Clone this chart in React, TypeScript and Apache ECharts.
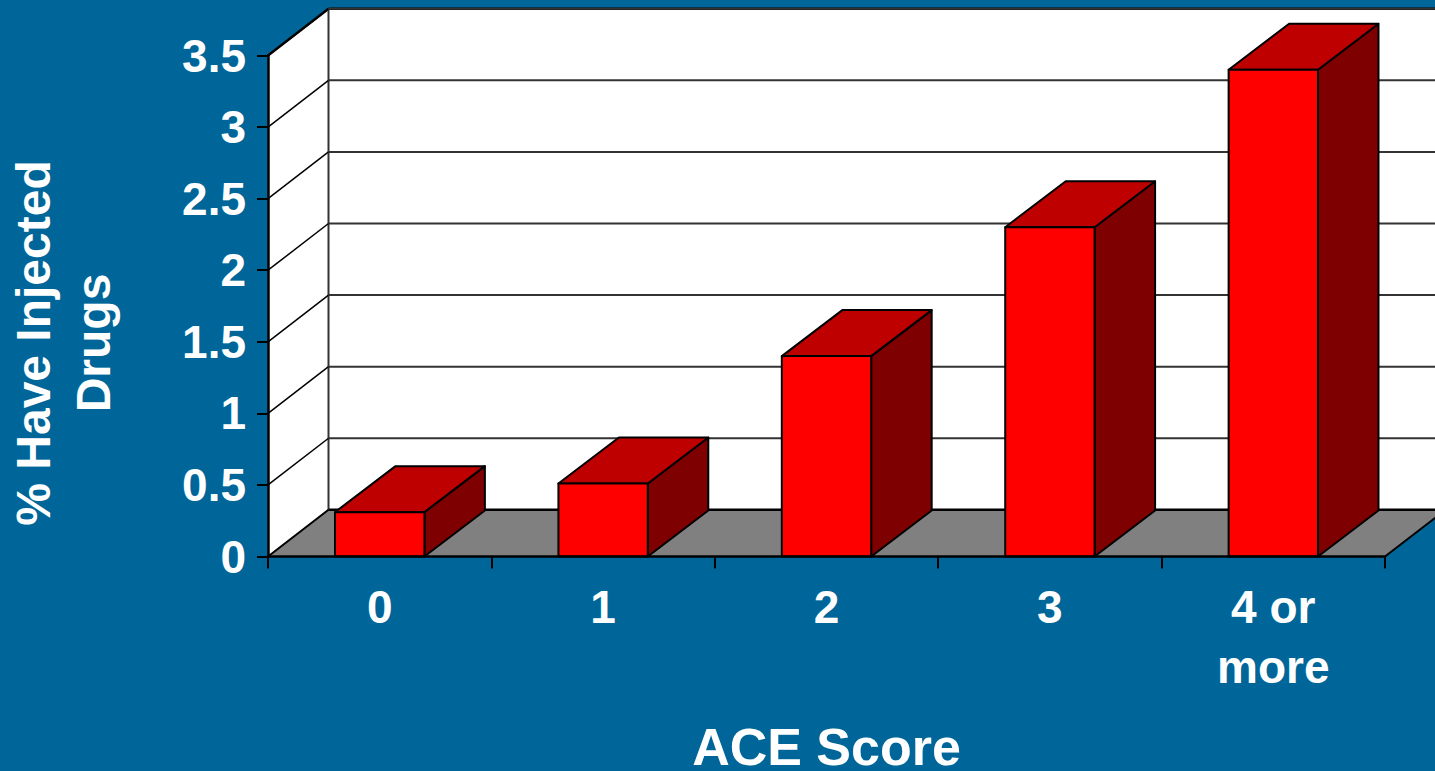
import React, { useEffect, useRef } from "react";
import * as echarts from "echarts";

const categories = ["0", "1", "2", "3", "4 or\nmore"];
const values = [0.31, 0.51, 1.4, 2.3, 3.4];
const yTicks = [0.5, 1, 1.5, 2, 2.5, 3, 3.5];
const yMax = 3.5;
const DX = 60.5;
const DY = -46.7;
const FONT = '"Liberation Sans", Arial, sans-serif';

export default function App() {
  const ref = useRef<HTMLDivElement>(null);
  useEffect(() => {
    const chart = echarts.init(ref.current!, undefined, { renderer: "svg" });
    const lastCat = categories.length - 1;
    const corners = (api: any) => {
      const band = api.size([1, 0])[0];
      const a = api.coord([0, 0]);
      const b = api.coord([0, yMax]);
      const left = a[0] - band / 2;
      const right = api.coord([lastCat, 0])[0] + band / 2;
      return { left, right, bottom: a[1], top: b[1] };
    };
    chart.setOption({
      animation: false,
      backgroundColor: "#006699",
      grid: { left: 268, top: 55.5, width: 1117, height: 501, containLabel: false, outerBoundsMode: "none" },
      xAxis: {
        type: "category",
        data: categories,
        z: 10,
        name: "ACE Score",
        nameLocation: "middle",
        nameGap: 168,
        nameTextStyle: { color: "#fff", fontFamily: FONT, fontWeight: "bold", fontSize: 52, lineHeight: 44, verticalAlign: "top" },
        axisLine: { show: true, lineStyle: { color: "#000", width: 2.5 } },
        axisTick: { show: true, length: 12, lineStyle: { color: "#000", width: 2 } },
        axisLabel: { color: "#fff", fontFamily: FONT, fontWeight: "bold", fontSize: 46, lineHeight: 60, margin: 20 },
      },
      yAxis: {
        type: "value",
        min: 0,
        max: yMax,
        interval: 0.5,
        z: 10,
        name: "% Have Injected\nDrugs",
        nameLocation: "middle",
        nameRotate: 90,
        nameGap: 145,
        nameTextStyle: { color: "#fff", fontFamily: FONT, fontWeight: "bold", fontSize: 48, lineHeight: 60, padding: [0, 74, 0, 0] },
        splitLine: { show: false },
        axisLine: { show: true, lineStyle: { color: "#000", width: 2.5 } },
        axisTick: { show: true, length: 11, lineStyle: { color: "#000", width: 2 } },
        axisLabel: { color: "#fff", fontFamily: FONT, fontWeight: "bold", fontSize: 46, margin: 22 },
      },
      series: [
        {
          type: "custom",
          name: "room",
          silent: true,
          clip: false,
          z: 1,
          data: [[0]],
          renderItem: (_p: any, api: any) => {
            const c = corners(api);
            const bLeft = c.left + DX;
            const bRight = c.right + DX;
            const edge = { stroke: "#000", lineWidth: 2.5 };
            return {
              type: "group",
              children: [
                { type: "polygon", shape: { points: [[c.left, c.top], [bLeft, c.top + DY], [bLeft, c.bottom + DY], [c.left, c.bottom]] }, style: { fill: "#fff" } },
                { type: "polygon", shape: { points: [[bLeft, c.top + DY], [bRight, c.top + DY], [bRight, c.bottom + DY], [bLeft, c.bottom + DY]] }, style: { fill: "#fff" } },
                { type: "polygon", shape: { points: [[c.left, c.bottom], [bLeft, c.bottom + DY], [bRight, c.bottom + DY], [c.right, c.bottom]] }, style: { fill: "#808080" } },
                { type: "line", shape: { x1: c.left, y1: c.top, x2: bLeft, y2: c.top + DY }, style: edge },
                { type: "line", shape: { x1: bLeft, y1: c.top + DY, x2: bRight, y2: c.top + DY }, style: edge },
                { type: "line", shape: { x1: bLeft, y1: c.top + DY, x2: bLeft, y2: c.bottom + DY }, style: { stroke: "#333", lineWidth: 2 } },
                { type: "line", shape: { x1: c.left, y1: c.bottom, x2: bLeft, y2: c.bottom + DY }, style: { stroke: "#000", lineWidth: 2 } },
                { type: "line", shape: { x1: bLeft, y1: c.bottom + DY, x2: bRight, y2: c.bottom + DY }, style: edge },
                { type: "line", shape: { x1: c.right, y1: c.bottom, x2: bRight, y2: c.bottom + DY }, style: { stroke: "#000", lineWidth: 2 } },
              ],
            };
          },
        },
        {
          type: "custom",
          name: "gridlines",
          silent: true,
          clip: false,
          z: 2,
          data: yTicks.map((t) => [0, t]),
          encode: { y: 1 },
          renderItem: (_p: any, api: any) => {
            const c = corners(api);
            const y = api.coord([0, api.value(1)])[1];
            return {
              type: "group",
              children: [
                { type: "line", shape: { x1: c.left, y1: y, x2: c.left + DX, y2: y + DY }, style: { stroke: "#000", lineWidth: 1.5 } },
                { type: "line", shape: { x1: c.left + DX, y1: y + DY, x2: c.right + DX, y2: y + DY }, style: { stroke: "#333", lineWidth: 2 } },
              ],
            };
          },
        },
        {
          type: "custom",
          name: "% Have Injected Drugs",
          silent: true,
          clip: false,
          z: 3,
          data: values.map((v, i) => [i, v]),
          encode: { x: 0, y: 1 },
          renderItem: (_p: any, api: any) => {
            const [cx, top] = api.coord([api.value(0), api.value(1)]);
            const bottom = api.coord([api.value(0), 0])[1];
            const half = api.size([1, 0])[0] * 0.2;
            const l = cx - half;
            const r = cx + half;
            const dx = DX;
            const dy = -46;
            const line = { stroke: "#000", lineWidth: 2, lineJoin: "round" };
            return {
              type: "group",
              children: [
                { type: "polygon", shape: { points: [[r, top], [r + dx, top + dy], [r + dx, bottom + dy], [r, bottom]] }, style: { fill: "#7f0000", ...line } },
                { type: "polygon", shape: { points: [[l, top], [l + dx, top + dy], [r + dx, top + dy], [r, top]] }, style: { fill: "#bf0000", ...line } },
                { type: "polygon", shape: { points: [[l, top], [r, top], [r, bottom], [l, bottom]] }, style: { fill: "#ff0000", ...line } },
              ],
            };
          },
        },
      ],
    });
    return () => chart.dispose();
  }, []);
  return (
    <div
      ref={ref}
      style={{ position: "fixed", left: 0, top: 0, width: 1435, height: 771, overflow: "hidden" }}
    />
  );
}
